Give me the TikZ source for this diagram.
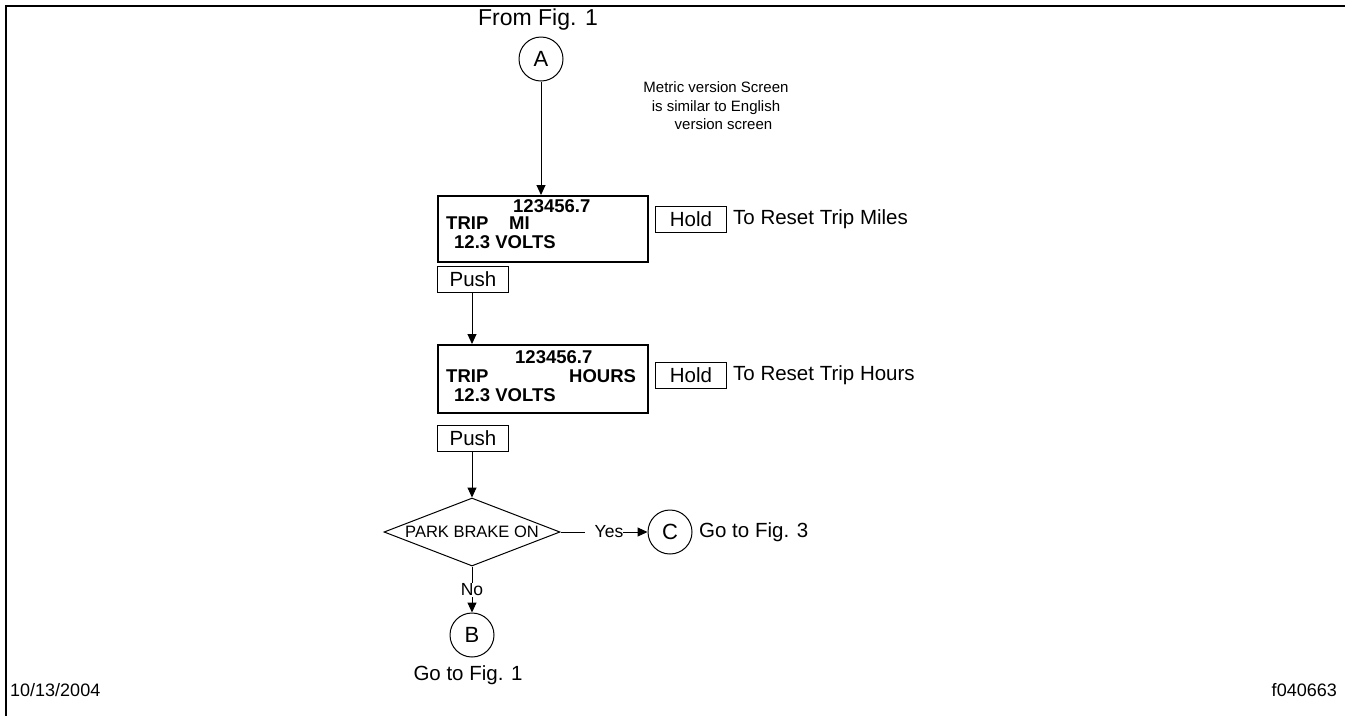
\documentclass[tikz,border=0pt]{standalone}
\usepackage{fontspec}
\setmainfont{Liberation Sans}
\usetikzlibrary{arrows.meta,shapes.geometric}
\begin{document}
\begin{tikzpicture}[x=1pt,y=-1pt,
  lbl/.style={inner sep=0pt,font=\fontsize{20.5}{24}\selectfont},
  small/.style={inner sep=0pt,font=\fontsize{15}{18.5}\selectfont},
  conn/.style={circle,draw,line width=1pt,minimum size=44pt,inner sep=0pt,font=\fontsize{22}{24}\selectfont},
  screen/.style={draw,line width=1.6pt,minimum width=210pt,minimum height=66pt,inner sep=0pt},
  btn/.style={draw,line width=1pt,minimum width=71pt,minimum height=26pt,inner sep=0pt,font=\fontsize{20.5}{24}\selectfont},
  bold/.style={inner sep=0pt,font=\fontsize{18.5}{21}\selectfont\bfseries,anchor=base west},
  arr/.style={line width=1pt,-{Triangle[length=10pt,width=9pt]}},
  ln/.style={line width=1pt}]
\useasboundingbox (0,0) rectangle (1345,716);
\draw[line width=2pt] (1345,6) -- (6,6) -- (6,716);
% top
\node[inner sep=0pt,font=\fontsize{23}{26}\selectfont] (from) at (538,20) {From Fig. 1};
\node[conn] (A) at (541,59) {A};
\node[small,align=center] (metric) at (716,106) {Metric version Screen\\ is similar to English\\ \quad version screen};
% screen 1
\node[screen,anchor=north west] (s1) at (437,195) {};
\node[bold] at (513,212) {123456.7};
\node[bold] at (446,229) {TRIP};
\node[bold] at (509,229) {MI};
\node[bold] at (454,248) {12.3 VOLTS};
\node[btn,anchor=west] (h1) at (655,219) {Hold};
\node[lbl,anchor=west] (t1) at (733,219) {To Reset Trip Miles};
\node[btn,anchor=north west] (p1) at (437,266) {Push};
% screen 2
\node[screen,anchor=north west,minimum height=68pt] (s2) at (437,344) {};
\node[bold] at (515,363) {123456.7};
\node[bold] at (446,382) {TRIP};
\node[bold] at (569,382) {HOURS};
\node[bold] at (454,401) {12.3 VOLTS};
\node[btn,anchor=west] (h2) at (655,375) {Hold};
\node[lbl,anchor=west] (t2) at (733,375) {To Reset Trip Hours};
\node[btn,anchor=north west] (p2) at (437,425) {Push};
% decision
\node[diamond,draw,line width=1pt,minimum width=176pt,minimum height=68pt,inner sep=0pt,aspect=2.6,font=\fontsize{16.5}{18}\selectfont] (d) at (472,532) {PARK BRAKE ON};
\node[inner sep=0pt,font=\fontsize{17.5}{19}\selectfont] (yes) at (609,532) {Yes};
\node[conn] (C) at (670,532) {C};
\node[lbl,anchor=west] (g3) at (699,532) {Go to Fig. 3};
\node[inner sep=1pt,font=\fontsize{17.5}{19}\selectfont] (no) at (472,590) {No};
\node[conn] (B) at (472,635) {B};
\node[lbl] (g1) at (468,675) {Go to Fig. 1};
% footer
\node[inner sep=0pt,anchor=west,font=\fontsize{18}{20}\selectfont] (date) at (10,690) {10/13/2004};
\node[inner sep=0pt,anchor=east,font=\fontsize{18}{20}\selectfont] (fig) at (1337,690) {f040663};
% connectors
\draw[arr] (A) -- (A|-s1.north);
\draw[arr] (p1.south -| 472,0) -- (472,344);
\draw[arr] (p2.south -| 472,0) -- (d.north);
\draw[ln] (d.east) -- ([xshift=-10pt]yes.west);
\draw[arr] (yes.east) -- (C.west);
\draw[ln] (d.south) -- (no.north);
\draw[arr] (no.south) -- (B.north);
\end{tikzpicture}
\end{document}
